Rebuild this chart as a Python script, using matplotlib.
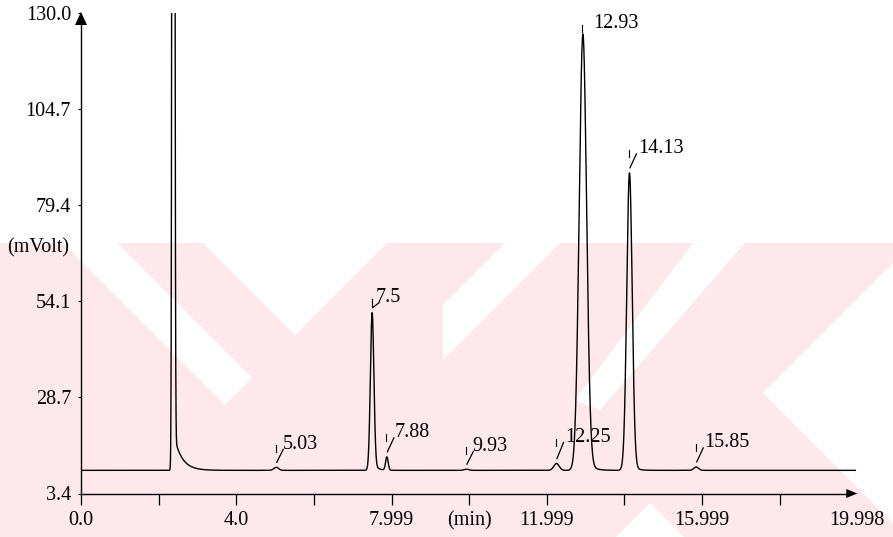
import math
import numpy as np
import matplotlib
matplotlib.use("Agg")
import matplotlib.pyplot as plt
from matplotlib.patches import Polygon

# ---------------------------------------------------------------- data
# detector baseline (mV) and run length (min)
baseline_mv = 9.5
run_end_min = 19.95

# solvent front (off scale): time, height, sigma, tail amplitude, tail decay
solvent_time = 2.38
solvent_height = 1000.0
solvent_sigma = 0.022
solvent_tail = 10.0
solvent_tau = 0.20

# integrated peaks: retention time (min), height above baseline (mV)
peak_times = [5.03, 7.5, 7.88, 9.93, 12.25, 12.93, 14.13, 15.85]
peak_heights = [0.8, 40.3, 3.5, 0.3, 1.8, 113.0, 77.4, 0.9]
peak_sigmas = [0.06, 0.045, 0.033, 0.06, 0.07, 0.095, 0.07, 0.06]
peak_tails = [0.0, 2.5, 0.0, 0.0, 0.0, 4.0, 2.0, 0.0]
peak_taus = [0.10, 0.10, 0.10, 0.10, 0.10, 0.15, 0.12, 0.10]
peak_labels = ["5.03", "7.5", "7.88", "9.93", "12.25", "12.93", "14.13", "15.85"]

# axis scales
y_ticks = [3.4, 28.7, 54.1, 79.4, 104.7, 130.0]
x_ticks = [0, 2, 4, 6, 8, 10, 12, 14, 16, 18, 20]
x_tick_labels = ["0.0", "", "4.0", "", "7.999", "(min)", "11.999", "", "15.999", "", "19.998"]

# ---------------------------------------------------------------- signal
def smooth_step(z):
    return 0.5 * (1.0 + np.vectorize(math.erf)(z / math.sqrt(2.0)))


def peak_shape(t, t0, h, s, tail, tau):
    d = t - t0
    g = h * np.exp(-0.5 * (d / s) ** 2)
    tl = tail * np.exp(-np.clip(d, 0, None) / tau) * smooth_step(d / s)
    return g + tl


t = np.linspace(0.0, run_end_min, 8000)
signal = np.full_like(t, baseline_mv)
signal += peak_shape(t, solvent_time, solvent_height, solvent_sigma,
                     solvent_tail, solvent_tau)
for t0, h, s, tl, tau in zip(peak_times, peak_heights, peak_sigmas,
                             peak_tails, peak_taus):
    signal += peak_shape(t, t0, h, s, tl, tau)

# ---------------------------------------------------------------- figure
W, H = 893, 537
fig = plt.figure(figsize=(W / 100, H / 100), dpi=100)
fig.patch.set_facecolor("white")

serif = ["Liberation Serif", "DejaVu Serif"]
fsize = 14.5
fweight = "normal"

# background watermark (figure pixel space, y downwards)
wm = fig.add_axes([0, 0, 1, 1], zorder=0)
wm.set_xlim(0, W)
wm.set_ylim(H, 0)
wm.axis("off")
pink = "#FDE8EC"
wm.add_patch(Polygon([(0, 243), (W, 243), (W, H), (0, H)], closed=True,
                     facecolor=pink, edgecolor="none"))
white_shapes = [
    [(63, 243), (117, 243), (252, 378), (225, 405)],
    [(203, 243), (387, 243), (295, 335)],
    [(505, 243), (560, 243), (443, 360), (443, 305)],
    [(693, 243), (745, 243), (600, 410), (575, 400)],
    [(763, 393), (893, 263), (893, 523)],
    [(650, 503), (616, 537), (684, 537)],
]
for shp in white_shapes:
    wm.add_patch(Polygon(shp, closed=True, facecolor="white", edgecolor="none"))

# chart axes
x0_px, x1_px = 81.0, 857.3
y0_px, y1_px = 493.5, 13.0
ax = fig.add_axes([x0_px / W, (H - y0_px) / H, (x1_px - x0_px) / W,
                   (y0_px - y1_px) / H], zorder=1)
ax.patch.set_alpha(0)
xmin, xmax = 0.0, 20.0
ymin, ymax = 3.4, 130.0
ax.set_xlim(xmin, xmax)
ax.set_ylim(ymin, ymax)
for sp in ax.spines.values():
    sp.set_visible(False)

sx = ax.bbox.width / (xmax - xmin)   # px per minute
sy = ax.bbox.height / (ymax - ymin)  # px per mV

lw = 1.0
ax.plot(t, signal, color="black", lw=lw, solid_joinstyle="round")

# axis lines with arrow heads
ax.plot([0, 0], [ymin, ymax - 10 / sy], color="black", lw=lw, clip_on=False)
ax.fill([-6 / sx, 6 / sx, 0], [ymax - 12 / sy, ymax - 12 / sy, ymax + 1 / sy],
        color="black", clip_on=False, lw=0)
ax.plot([0, xmax - 8 / sx], [ymin, ymin], color="black", lw=lw, clip_on=False)
ax.fill([xmax - 11 / sx, xmax - 11 / sx, xmax],
        [ymin - 4.5 / sy, ymin + 4.5 / sy, ymin], color="black",
        clip_on=False, lw=0)

# ticks
ax.set_xticks(x_ticks)
ax.set_xticklabels(x_tick_labels, fontfamily=serif, fontsize=fsize,
                   fontweight=fweight)
ax.set_yticks(y_ticks)
ax.set_yticklabels([f"{v:.1f}" for v in y_ticks], fontfamily=serif,
                   fontsize=fsize, fontweight=fweight)
ax.tick_params(axis="x", direction="out", length=11 * 0.72, width=0.9,
               pad=5, colors="black")
ax.tick_params(axis="y", direction="out", length=3 * 0.72, width=0.8,
               pad=5, colors="black")
ax.xaxis.get_major_ticks()[-1].tick1line.set_visible(False)

ax.set_ylabel("(mVolt)", rotation=0, fontfamily=serif, fontsize=fsize,
              fontweight=fweight, ha="center", va="center")
ax.yaxis.set_label_coords(-43 / ax.bbox.width, (493.5 - 248) / ax.bbox.height)

# peak annotations: text offset right/up in px, tick mark and slash
label_dx = [7, 4, 8, 6, 9, 10, 9, 8]
label_dy = [23, 15, 24, 23, 26, 10, 24, 24]
label_slash = [True, True, True, True, True, False, True, True]
for lab, t0, dx, dy, slash in zip(peak_labels, peak_times, label_dx,
                                  label_dy, label_slash):
    apex = float(np.interp(t0, t, signal))
    ax.annotate(lab, xy=(t0, apex), xytext=(dx, dy), textcoords="offset pixels",
                ha="left", va="center", fontfamily=serif, fontsize=fsize,
                fontweight=fweight, annotation_clip=False)
    ax.plot([t0 - 0.5 / sx] * 2,
            [apex + (dy - 1) / sy, apex + (dy - 8) / sy],
            color="black", lw=0.8, clip_on=False)
    if slash:
        ax.plot([t0 + 0.5 / sx, t0 + 7 / sx],
                [apex + 5 / sy, apex + (dy - 5) / sy],
                color="black", lw=0.9, clip_on=False)

fig.savefig("out.png", dpi=100, facecolor="white")
